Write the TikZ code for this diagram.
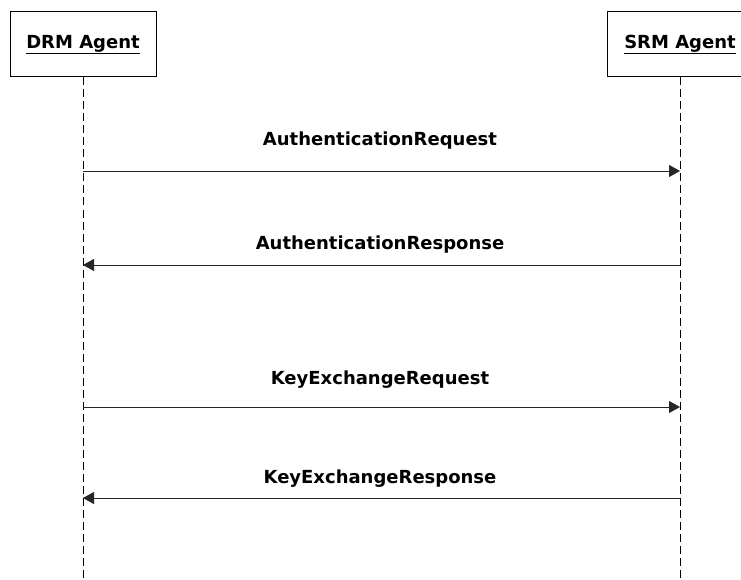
\documentclass[tikz,border=0pt]{standalone}
\usepackage{fontspec}
\setmainfont{DejaVu Sans}
\usetikzlibrary{arrows.meta}
\tikzset{
  agent/.style={draw=black, line width=1pt, fill=white, minimum width=146pt, minimum height=65pt, inner sep=0pt, font=\fontsize{18pt}{20pt}\selectfont\bfseries},
  lifeline/.style={draw=black, line width=1pt, dash pattern=on 8pt off 4pt},
  msg/.style={draw=black!85, line width=0.9pt, -{Triangle[length=11pt,width=12pt]}},
  msglabel/.style={font=\fontsize{18pt}{20pt}\selectfont\bfseries, inner sep=0pt}
}
\begin{document}
\begin{tikzpicture}[x=1pt,y=-1pt]
\useasboundingbox (0,0) rectangle (741,580);
\clip (0,0) rectangle (741,580);
\node[agent] (drm) at (83,44.5) {\underline{DRM Agent}};
\node[agent] (srm) at (680,44.5) {\underline{SRM Agent}};
\coordinate (drmend) at (83,580);
\coordinate (srmend) at (680,580);
\draw[lifeline] (drm.south) -- (drmend);
\draw[lifeline] (srm.south) -- (srmend);
% messages
\coordinate (d1) at (83,171);  \coordinate (s1) at (680,171);
\coordinate (d2) at (83,265);  \coordinate (s2) at (680,265);
\coordinate (d3) at (83,407);  \coordinate (s3) at (680,407);
\coordinate (d4) at (83,498);  \coordinate (s4) at (680,498);
\draw[msg] (d1) -- (s1);
\draw[msg] (s2) -- (d2);
\draw[msg] (d3) -- (s3);
\draw[msg] (s4) -- (d4);
\node[msglabel] (l1) at (380,141) {AuthenticationRequest};
\node[msglabel] (l2) at (380,245) {AuthenticationResponse};
\node[msglabel] (l3) at (380,380) {KeyExchangeRequest};
\node[msglabel] (l4) at (380,479) {KeyExchangeResponse};
\end{tikzpicture}
\end{document}
